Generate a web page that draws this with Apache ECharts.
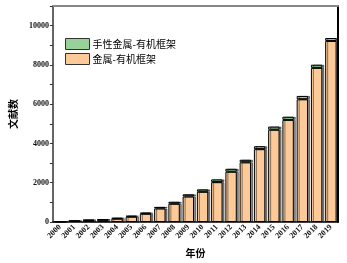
<!DOCTYPE html>
<html lang="zh">
<head>
    <meta charset="UTF-8" />
    <title>文献数</title>
    <script src="https://cdn.jsdelivr.net/npm/echarts@6/dist/echarts.min.js"></script>
    <style>
        html, body { margin: 0; padding: 0; background: #fff; }
    </style>
</head>
<body>
    <div id="main" style="width: 347px; height: 263px"></div>

    <script>
        // 年份
        var years = ["2000", "2001", "2002", "2003", "2004", "2005", "2006", "2007", "2008", "2009",
            "2010", "2011", "2012", "2013", "2014", "2015", "2016", "2017", "2018", "2019"];
        // 金属-有机框架
        var mofData = [15, 50, 85, 110, 170, 270, 420, 690, 930, 1300,
            1540, 2030, 2560, 3040, 3710, 4700, 5200, 6250, 7850, 9220];
        // 手性金属-有机框架
        var chiralData = [10, 20, 25, 30, 40, 50, 60, 80, 100, 110,
            120, 140, 150, 130, 150, 160, 160, 170, 160, 150];
        var yTicks = [0, 2000, 4000, 6000, 8000, 10000];

        var serif = "Liberation Serif";
        var cjk = "Noto Sans CJK SC";

        var chart = echarts.init(document.querySelector("#main"));

        var option = {
            animation: false,
            grid: { left: 44, right: 9, top: 6, bottom: 37 },
            legend: {
                data: ["手性金属-有机框架", "金属-有机框架"],
                orient: "vertical",
                left: 60,
                top: 33,
                icon: "rect",
                itemWidth: 24,
                itemHeight: 11,
                itemGap: 3,
                itemStyle: { borderColor: "#333", borderWidth: 1, shadowBlur: 0, shadowOffsetX: 0 },
                textStyle: { fontFamily: cjk, fontSize: 10, color: "#000", padding: [0, 0, 0, -2] },
            },
            xAxis: [
                {
                    type: "category",
                    data: years,
                    name: "年份",
                    nameLocation: "middle",
                    nameGap: 26,
                    nameTextStyle: { fontFamily: cjk, fontSize: 10, fontWeight: "bold", color: "#000" },
                    axisLine: { lineStyle: { color: "#000", width: 1.5 } },
                    axisTick: { alignWithLabel: true, length: 4, lineStyle: { color: "#000" } },
                    axisLabel: {
                        rotate: 45,
                        interval: 0,
                        margin: 4,
                        fontFamily: serif,
                        fontWeight: "bold",
                        fontSize: 8,
                        color: "#111",
                    },
                },
                {
                    type: "category",
                    data: years,
                    position: "top",
                    axisLine: { onZero: false, lineStyle: { color: "#888", width: 2 } },
                    axisTick: { show: false },
                    axisLabel: { show: false },
                },
            ],
            yAxis: [
                {
                    type: "value",
                    min: 0,
                    max: 11000,
                    interval: 1000,
                    name: "文献数",
                    nameLocation: "middle",
                    nameGap: 27,
                    nameTextStyle: { fontFamily: cjk, fontSize: 10, fontWeight: "bold", color: "#000" },
                    axisLine: { show: true, lineStyle: { color: "#333", width: 1.5 } },
                    axisTick: { show: true, length: 3, lineStyle: { color: "#333" } },
                    axisLabel: {
                        margin: 4,
                        fontFamily: serif,
                        fontWeight: "bold",
                        fontSize: 8,
                        color: "#111",
                        formatter: function (v) {
                            return yTicks.indexOf(v) >= 0 ? v : "";
                        },
                    },
                    splitLine: { show: false },
                },
                {
                    type: "value",
                    min: 0,
                    max: 11000,
                    position: "right",
                    axisLine: { show: true, onZero: false, lineStyle: { color: "#000", width: 2 } },
                    axisTick: { show: false },
                    axisLabel: { show: false },
                    splitLine: { show: false },
                },
            ],
            series: [
                {
                    name: "金属-有机框架",
                    type: "bar",
                    stack: "total",
                    barWidth: "80%",
                    data: mofData,
                    itemStyle: {
                        color: "#FCC998",
                        borderColor: "#000",
                        borderWidth: 1,
                        shadowColor: "rgba(0,0,0,0.45)",
                        shadowOffsetX: 2,
                        shadowBlur: 0,
                    },
                },
                {
                    name: "手性金属-有机框架",
                    type: "bar",
                    stack: "total",
                    barWidth: "80%",
                    data: chiralData,
                    itemStyle: {
                        color: "#98D298",
                        borderColor: "#000",
                        borderWidth: 1,
                        shadowColor: "rgba(0,0,0,0.45)",
                        shadowOffsetX: 2,
                        shadowBlur: 0,
                    },
                },
            ],
        };
        chart.setOption(option);
    </script>
</body>
</html>
